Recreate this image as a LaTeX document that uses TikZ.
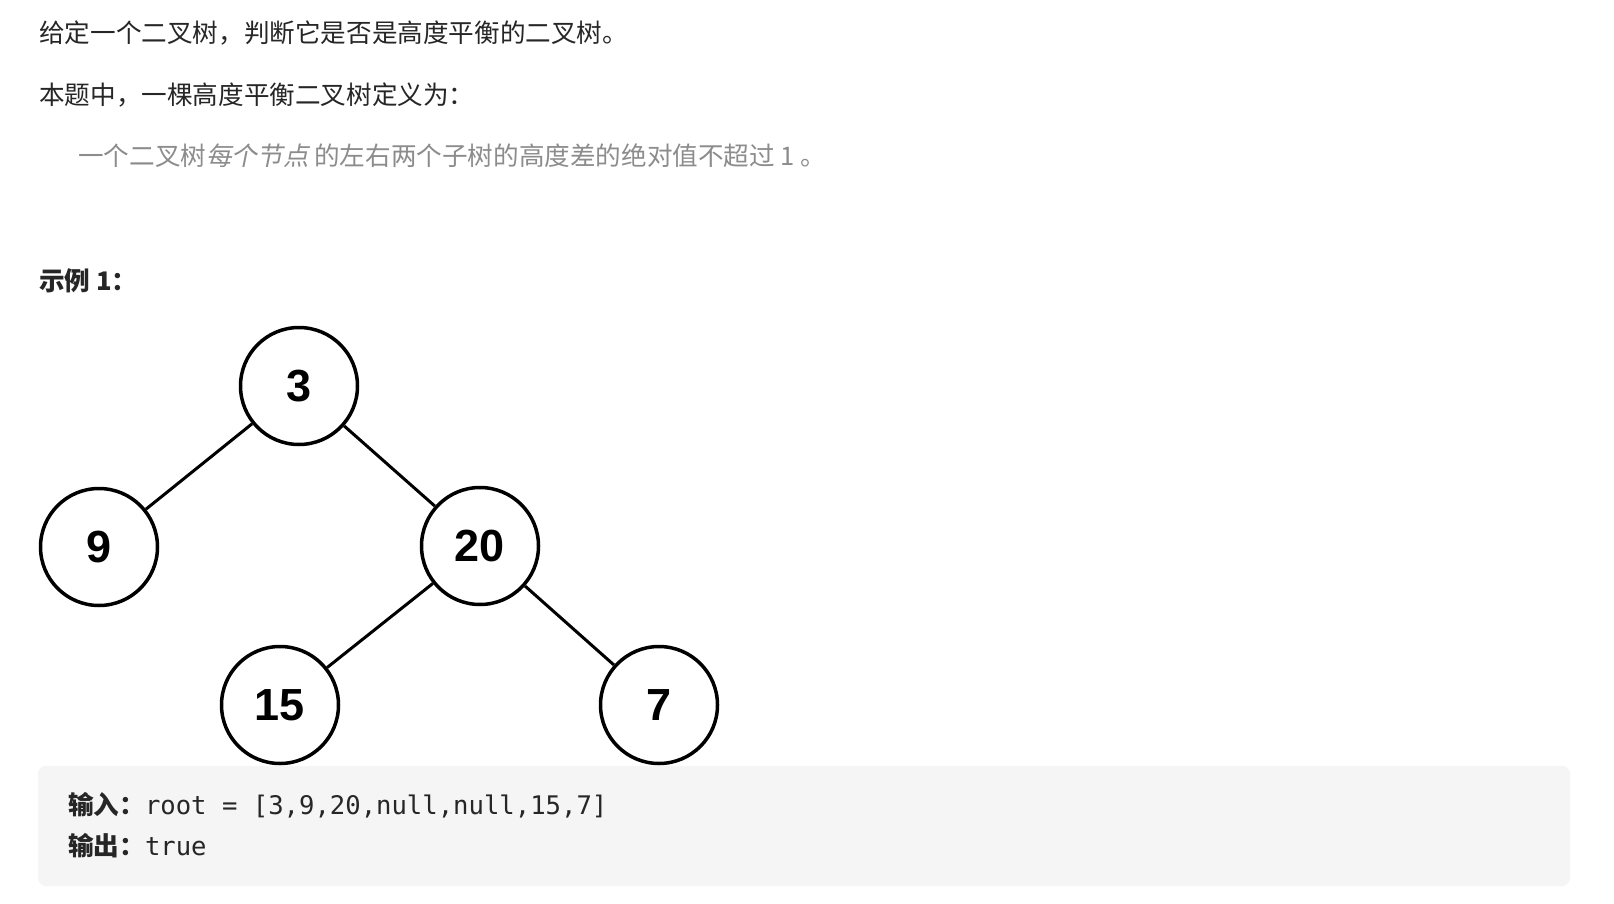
\documentclass[tikz,border=0pt]{standalone}
\usepackage{fontspec}
\setmainfont{Noto Sans CJK SC}
\newfontfamily\numfont{Liberation Sans}
\newfontfamily\codefont{DejaVu Sans Mono}
\newfontfamily\cjkslant{Noto Sans CJK SC}[FakeSlant=0.2]
\usetikzlibrary{positioning}

\definecolor{textdark}{HTML}{262626}
\definecolor{textgray}{HTML}{8C8C8C}
\definecolor{boxgray}{HTML}{F5F5F5}

\newcommand{\bodysize}{\fontsize{25.6}{30}\selectfont}

\begin{document}
\begin{tikzpicture}[x=1pt, y=-1pt,
    line/.style={anchor=base west, inner sep=0, text=textdark, font=\bodysize},
    treenode/.style={circle, draw, line width=3.5, minimum size=117, inner sep=0,
                     font=\fontsize{45}{50}\selectfont\numfont\bfseries},
    edge/.style={line width=3}]
        \useasboundingbox[fill=white] (0,0) rectangle (1614,904);

        % Problem statement
        \node[line] (intro) at (39,43) {给定一个二叉树，判断它是否是高度平衡的二叉树。};
        \node[line] (defn) at (39,105) {本题中，一棵高度平衡二叉树定义为：};
        \node[line, text=textgray] (quote) at (78,166)
            {一个二叉树{\cjkslant 每个节点} 的左右两个子树的高度差的绝对值不超过 1 。};

        % Example heading
        \node[line, font=\bodysize\bfseries] (ex) at (39,290) {示例 1：};

        % Tree picture, cut off by the code box
        \begin{scope}
            \clip (36,310) rectangle (720,766);
            \node[treenode] (n3) at (299,386) {3};
            \node[treenode] (n9) at (99,547) {9};
            \node[treenode] (n20) at (480,546) {20};
            \node[treenode] (n15) at (280,705) {15};
            \node[treenode] (n7) at (659,705) {7};
            \draw[edge] (n3) -- (n9);
            \draw[edge] (n3) -- (n20);
            \draw[edge] (n20) -- (n15);
            \draw[edge] (n20) -- (n7);
        \end{scope}

        % Input / output box
        \fill[boxgray, rounded corners=8] (38,766) rectangle (1570,886);
        \node[line] (input) at (68,814)
            {{\bfseries 输入：}{\codefont root = [3,9,20,null,null,15,7]}};
        \node[line] (output) at (68,855)
            {{\bfseries 输出：}{\codefont true}};
    \end{tikzpicture}
\end{document}
